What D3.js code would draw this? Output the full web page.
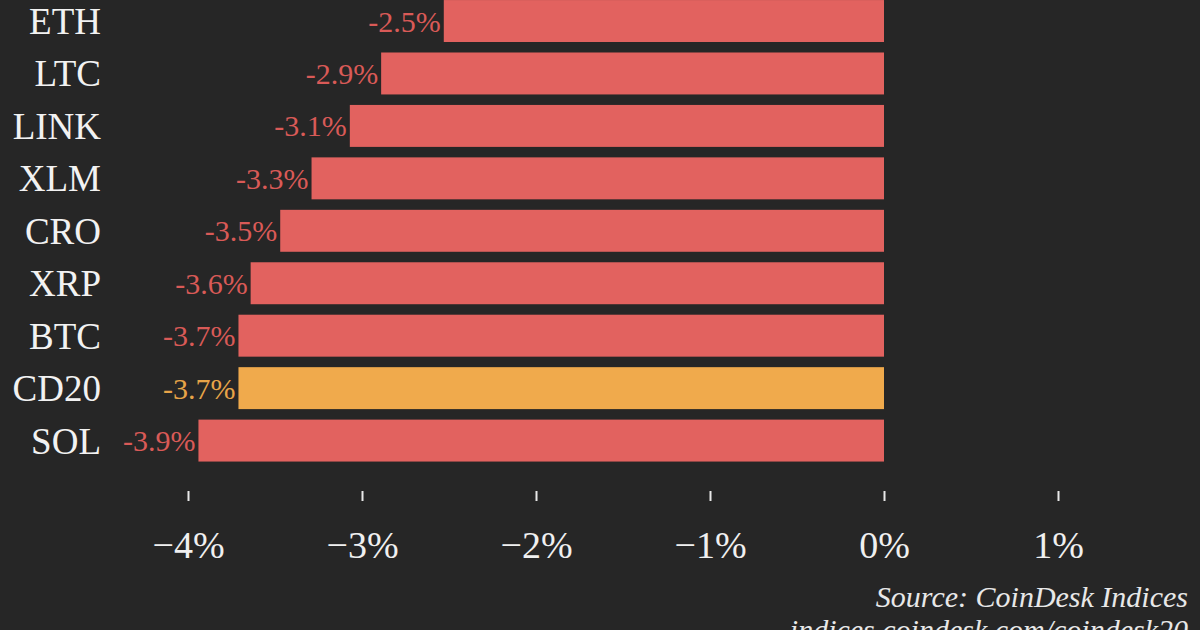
<!DOCTYPE html>
<html><head><meta charset="utf-8">
<script src="https://cdn.jsdelivr.net/npm/d3@7"></script>
<style>
html,body{margin:0;padding:0;background:#262626;overflow:hidden;}
</style></head>
<body>
<svg id="chart" width="1200" height="630"></svg>
<script>
const categories = ["ETH","LTC","LINK","XLM","CRO","XRP","BTC","CD20","SOL"];
const values = [-2.53,-2.89,-3.07,-3.29,-3.47,-3.64,-3.71,-3.71,-3.94];
const highlight = "CD20";
const tickValues = [-4,-3,-2,-1,0,1];
const sourceLines = ["Source: CoinDesk Indices","indices.coindesk.com/coindesk20"];

const svg = d3.select("#chart");
const W = 1200, H = 630;
svg.append("rect").attr("width",W).attr("height",H).attr("fill","#262626");

const x = d3.scaleLinear().domain([-4,1]).range([188,1058]);
const y = d3.scaleBand().domain(categories).range([-5.2,466.8]).paddingInner(0.2).paddingOuter(0.1);

const red = "#e2625f", orange = "#f0aa4c";
const fmt = v => (v<0?"-":"") + Math.abs(v).toFixed(1) + "%";

svg.append("g").selectAll("rect").data(categories).join("rect")
  .attr("x",(d,i)=>x(values[i]))
  .attr("y",d=>y(d))
  .attr("width",(d,i)=>x(0)-x(values[i]))
  .attr("height",y.bandwidth())
  .attr("fill",d=>d===highlight?orange:red);

svg.append("g").selectAll("text").data(categories).join("text")
  .attr("x",(d,i)=>x(values[i])-3)
  .attr("y",d=>y(d)+y.bandwidth()/2)
  .attr("dy","0.35em")
  .attr("text-anchor","end")
  .attr("font-family","'Liberation Serif', serif")
  .attr("font-size",30)
  .attr("fill",d=>d===highlight?"#e8a448":"#d95a57")
  .text((d,i)=>fmt(values[i]));

svg.append("g").selectAll("text").data(categories).join("text")
  .attr("x",101)
  .attr("y",d=>y(d)+y.bandwidth()/2)
  .attr("dy","0.35em")
  .attr("text-anchor","end")
  .attr("font-family","'Liberation Serif', serif")
  .attr("font-size",37)
  .attr("fill","#f2f2f2")
  .text(d=>d);

const axis = d3.axisBottom(x).tickValues(tickValues).tickSize(10).tickPadding(30)
  .tickFormat(d=>(d<0?"\u2212":"")+Math.abs(d)+"%");
const ag = svg.append("g").attr("transform","translate(0,491)").call(axis);
ag.select(".domain").remove();
ag.selectAll(".tick line").attr("stroke","#e8e8e8").attr("stroke-width",2);
ag.selectAll(".tick text").attr("fill","#f0f0f0")
  .attr("font-family","'Liberation Serif', serif").attr("font-size",38);

svg.append("g").selectAll("text").data(sourceLines).join("text")
  .attr("x",1188)
  .attr("y",(d,i)=>607+i*33)
  .attr("text-anchor","end")
  .attr("font-family","'Liberation Serif', serif")
  .attr("font-style","italic")
  .attr("font-size",30)
  .attr("fill","#e8e8e8")
  .text(d=>d);
</script>
</body></html>
